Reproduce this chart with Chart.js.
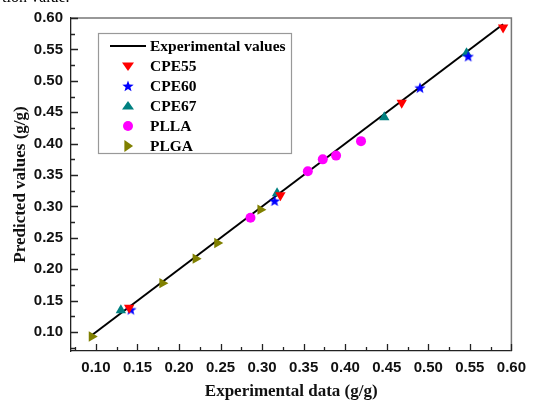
<!DOCTYPE html>
<html>
<head>
<meta charset="utf-8">
<script src="https://cdn.jsdelivr.net/npm/chart.js@4"></script>
<style>
  html, body { margin: 0; padding: 0; background: #fff; }
  #wrap { position: relative; width: 534px; height: 400px; overflow: hidden; }
  #cut { position: absolute; left: 2px; top: -12px; font: 16px "Liberation Serif", serif; color: #000; }
</style>
</head>
<body>
<div id="wrap">
  <div id="cut">tion value.</div>
  <canvas id="chart" width="534" height="400"></canvas>
</div>
<script>
// axis ticks
const xTicks = [0.10, 0.15, 0.20, 0.25, 0.30, 0.35, 0.40, 0.45, 0.50, 0.55, 0.60];
const yTicks = [0.10, 0.15, 0.20, 0.25, 0.30, 0.35, 0.40, 0.45, 0.50, 0.55, 0.60];

// experimental line (y = x)
const lineX = [0.095, 0.590];

// series: [experimental, predicted]
const cpe55X = [0.140, 0.322, 0.468, 0.590];
const cpe55Y = [0.139, 0.318, 0.465, 0.585];
const cpe60X = [0.142, 0.315, 0.490, 0.548];
const cpe60Y = [0.136, 0.309, 0.489, 0.539];
const cpe67X = [0.130, 0.318, 0.447, 0.546];
const cpe67Y = [0.135, 0.321, 0.442, 0.544];
const pllaX = [0.286, 0.355, 0.373, 0.389, 0.419];
const pllaY = [0.282, 0.356, 0.375, 0.381, 0.404];
const plgaX = [0.095, 0.180, 0.220, 0.246, 0.298];
const plgaY = [0.093, 0.178, 0.217, 0.242, 0.295];

const seriesNames = ["CPE55", "CPE60", "CPE67", "PLLA", "PLGA"];
const seriesColors = ["#ff0000", "#0000ff", "#008080", "#ff00ff", "#808000"];

const pts = (xs, ys) => xs.map((x, i) => ({ x: x, y: ys[i] }));

function starPath(ctx, cx, cy, r) {
    ctx.beginPath();
    for (let i = 0; i < 10; i++) {
        const rr = i % 2 ? r * 0.42 : r;
        const a = -Math.PI / 2 + i * Math.PI / 5;
        ctx.lineTo(cx + rr * Math.cos(a), cy + rr * Math.sin(a));
    }
    ctx.closePath();
}

function makeStar(color, size) {
    const c = document.createElement("canvas");
    c.width = size; c.height = size;
    const g = c.getContext("2d");
    g.fillStyle = color;
    starPath(g, size / 2, size / 2 + 0.5, size / 2);
    g.fill();
    return c;
}
const starImg = makeStar("#0000ff", 12);

function drawMarker(ctx, kind, color, x, y) {
    ctx.save();
    ctx.fillStyle = color;
    const r = 6;
    ctx.beginPath();
    if (kind === "down") {
        ctx.moveTo(x - r, y - r * 0.6); ctx.lineTo(x + r, y - r * 0.6); ctx.lineTo(x, y + r * 0.85);
    } else if (kind === "up") {
        ctx.moveTo(x - r, y + r * 0.6); ctx.lineTo(x + r, y + r * 0.6); ctx.lineTo(x, y - r * 0.85);
    } else if (kind === "right") {
        ctx.moveTo(x - r * 0.6, y - r); ctx.lineTo(x - r * 0.6, y + r); ctx.lineTo(x + r * 0.85, y);
    } else if (kind === "circle") {
        ctx.arc(x, y, 5, 0, Math.PI * 2);
    } else if (kind === "star") {
        starPath(ctx, x, y + 0.5, 6);
    }
    ctx.closePath();
    ctx.fill();
    ctx.restore();
}

const frameAndTicks = {
    id: "frameAndTicks",
    beforeDatasetsDraw(chart) {
        const { ctx, chartArea: a, scales: { x, y } } = chart;
        ctx.save();
        ctx.strokeStyle = "#777";
        ctx.lineWidth = 1.5;
        ctx.beginPath();
        ctx.moveTo(a.left, a.top); ctx.lineTo(a.right, a.top); ctx.lineTo(a.right, a.bottom);
        ctx.stroke();
        ctx.strokeStyle = "#222";
        ctx.lineWidth = 1.3;
        ctx.beginPath();
        const majorLen = 7, minorLen = 4;
        const xs = [xTicks[0] - 0.025].concat(xTicks.flatMap((v, i) => i < xTicks.length - 1 ? [v, v + 0.025] : [v]));
        xs.forEach(v => {
            const px = Math.round(x.getPixelForValue(v)) + 0.5;
            const major = xTicks.some(t => Math.abs(t - v) < 1e-6);
            ctx.moveTo(px, a.bottom); ctx.lineTo(px, a.bottom - (major ? majorLen : minorLen));
        });
        const ys = [yTicks[0] - 0.025].concat(yTicks.flatMap((v, i) => i < yTicks.length - 1 ? [v, v + 0.025] : [v]));
        ys.forEach(v => {
            const py = Math.round(y.getPixelForValue(v)) + 0.5;
            const major = yTicks.some(t => Math.abs(t - v) < 1e-6);
            ctx.moveTo(a.left, py); ctx.lineTo(a.left + (major ? majorLen : minorLen), py);
        });
        ctx.stroke();
        ctx.restore();
    }
};

const legendBox = {
    id: "legendBox",
    afterDraw(chart) {
        const { ctx, chartArea: a } = chart;
        const bx = a.left + 27, by = a.top + 15, bw = 193, bh = 120;
        ctx.save();
        ctx.fillStyle = "#fff";
        ctx.fillRect(bx, by, bw, bh);
        ctx.strokeStyle = "#999";
        ctx.lineWidth = 1.2;
        ctx.strokeRect(bx + 0.5, by + 0.5, bw, bh);
        ctx.font = "bold 15.5px 'Liberation Serif', 'Times New Roman', serif";
        ctx.fillStyle = "#000";
        ctx.textBaseline = "middle";
        const textX = bx + 52, rowH = 20;
        let ry = by + 13;
        ctx.strokeStyle = "#000";
        ctx.lineWidth = 2;
        ctx.beginPath();
        ctx.moveTo(bx + 12, ry); ctx.lineTo(bx + 48, ry);
        ctx.stroke();
        ctx.fillText("Experimental values", textX, ry + 1);
        const kinds = ["down", "star", "up", "circle", "right"];
        seriesNames.forEach((name, i) => {
            ry += rowH;
            drawMarker(ctx, kinds[i], seriesColors[i], bx + 30, ry);
            ctx.fillStyle = "#000";
            ctx.fillText(name, textX, ry + 1);
        });
        ctx.restore();
    }
};

const tickFont = { family: "'Liberation Sans', Arial, sans-serif", size: 15, weight: "bold" };
const titleFont = { family: "'Liberation Serif', 'Times New Roman', serif", size: 17, weight: "bold" };

new Chart(document.getElementById("chart"), {
    type: "scatter",
    data: {
        datasets: [
            {
                label: "Experimental values",
                data: pts(lineX, lineX),
                showLine: true,
                borderColor: "#000",
                borderWidth: 2,
                pointRadius: 0,
                order: 10
            },
            { label: seriesNames[0], data: pts(cpe55X, cpe55Y), pointStyle: "triangle", rotation: 180,
              backgroundColor: seriesColors[0], borderColor: seriesColors[0], borderWidth: 0, pointRadius: 6 },
            { label: seriesNames[1], data: pts(cpe60X, cpe60Y), pointStyle: starImg,
              backgroundColor: seriesColors[1], borderColor: seriesColors[1], pointRadius: 6 },
            { label: seriesNames[2], data: pts(cpe67X, cpe67Y), pointStyle: "triangle",
              backgroundColor: seriesColors[2], borderColor: seriesColors[2], borderWidth: 0, pointRadius: 6 },
            { label: seriesNames[3], data: pts(pllaX, pllaY), pointStyle: "circle",
              backgroundColor: seriesColors[3], borderColor: seriesColors[3], borderWidth: 0, pointRadius: 5 },
            { label: seriesNames[4], data: pts(plgaX, plgaY), pointStyle: "triangle", rotation: 90,
              backgroundColor: seriesColors[4], borderColor: seriesColors[4], borderWidth: 0, pointRadius: 6 }
        ]
    },
    options: {
        responsive: false,
        animation: false,
        events: [],
        layout: { padding: { top: 18, right: 16, left: 0, bottom: 0 } },
        plugins: { legend: { display: false }, tooltip: { enabled: false } },
        scales: {
            x: {
                type: "linear", min: 0.07, max: 0.60,
                afterBuildTicks: s => { s.ticks = xTicks.map(v => ({ value: v })); },
                afterFit: s => { s.height = 49; },
                grid: { display: false, drawTicks: false },
                border: { display: true, color: "#222", width: 1.3 },
                ticks: { color: "#111", font: tickFont, padding: 8, maxRotation: 0,
                         callback: v => v.toFixed(2) },
                title: { display: true, text: "Experimental data (g/g)", color: "#111",
                         font: titleFont, padding: { top: 0, bottom: -2 } }
            },
            y: {
                type: "linear", min: 0.07, max: 0.60,
                afterBuildTicks: s => { s.ticks = yTicks.map(v => ({ value: v })); },
                afterFit: s => { s.width = 71; },
                grid: { display: false, drawTicks: false },
                border: { display: true, color: "#222", width: 1.3 },
                ticks: { color: "#111", font: tickFont, padding: 8,
                         callback: v => v.toFixed(2) },
                title: { display: true, text: "Predicted values (g/g)", color: "#111",
                         font: titleFont, padding: { top: 10, bottom: 0 } }
            }
        }
    },
    plugins: [frameAndTicks, legendBox]
});
</script>
</body>
</html>
